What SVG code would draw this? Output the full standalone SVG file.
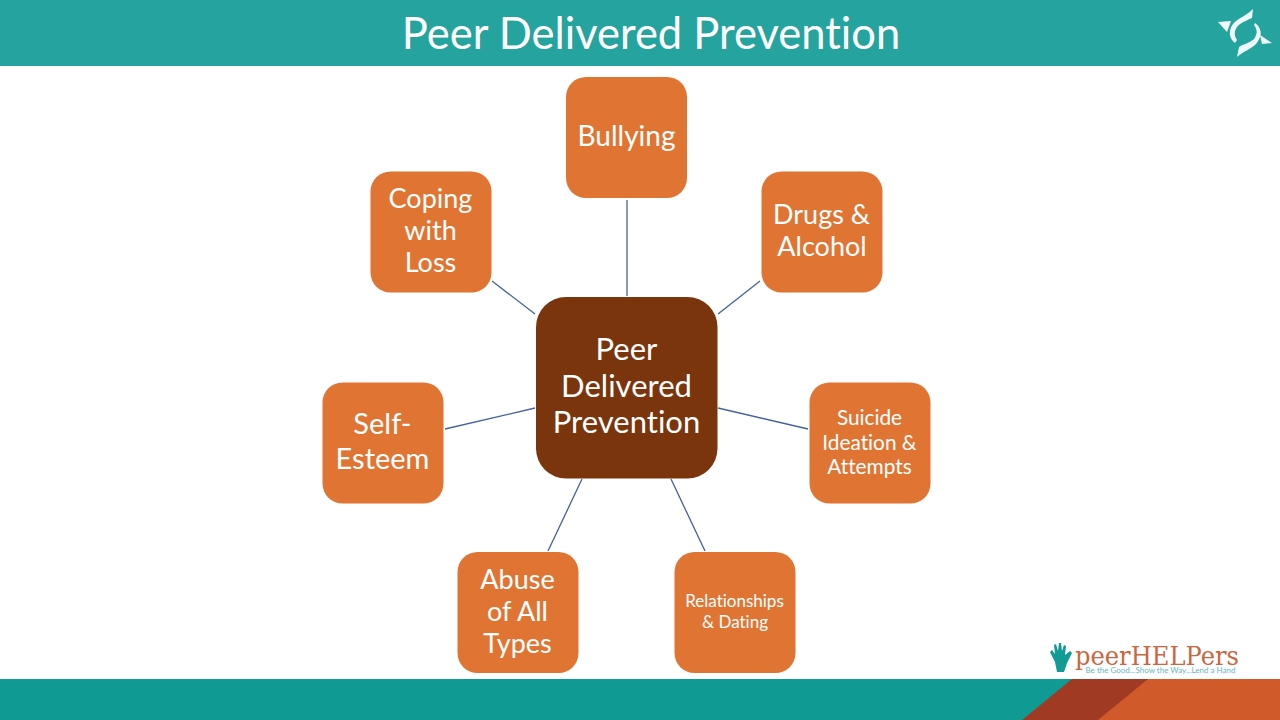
<svg xmlns="http://www.w3.org/2000/svg" width="1280" height="720" viewBox="0 0 1280 720">
<style>
text{font-family:Lato,"Open Sans","Liberation Sans",sans-serif;fill:#fff;text-anchor:middle;font-variant-ligatures:none}
.box{fill:#e07533}
.hub{fill:#7b350d}
.c line{stroke:#44619d;stroke-width:1.3}
.l{font-size:27px}
</style>
<rect width="1280" height="720" fill="#fff"/>
<rect id="header" width="1280" height="66" fill="#25a39f"/>
<text x="651" y="48.500" font-size="43.500">Peer Delivered Prevention</text>
<g id="corner-logo" fill="#eefafa">
<path d="M1218 22L1231 21L1227 32Z"/>
<path d="M1272 43L1260 35L1262 44Z"/>
<path d="M1253 9C1246 16 1238 18 1233 24C1228 31 1229 38 1235 43L1237 40C1234 36 1234 31 1237 27C1241 22 1248 20 1252 18Z"/>
<path d="M1237 57C1244 51 1251 49 1256 44C1262 37 1263 29 1255 23L1254 25C1258 30 1257 35 1254 39C1250 43 1243 44 1239 47Z"/>
</g>
<g id="footer">
<rect y="679" width="1280" height="41" fill="#0f9a94"/>
<path d="M1022 720L1072 679H1280V720Z" fill="#a13a22"/>
<path d="M1098 720L1148 679H1280V720Z" fill="#d05a29"/>
</g>
<g id="connectors" class="c">
<line x1="627" y1="200" x2="627" y2="296"/>
<line x1="760" y1="281" x2="718" y2="314"/>
<line x1="808" y1="429" x2="718" y2="408"/>
<line x1="705" y1="551" x2="671" y2="479"/>
<line x1="548" y1="551" x2="582" y2="479"/>
<line x1="445" y1="429" x2="535" y2="408"/>
<line x1="492" y1="281" x2="535" y2="314"/>
</g>
<g id="hub"><rect class="hub" x="536" y="297" width="181.500" height="181.500" rx="30"/>
<text x="626.500" y="360" font-size="31">Peer</text><text x="626.500" y="397" font-size="31">Delivered</text><text x="626.500" y="433" font-size="31">Prevention</text></g>
<g id="bullying"><rect class="box" x="566" y="77" width="121" height="121" rx="20"/><text x="626.500" y="146" font-size="28">Bullying</text></g>
<g id="drugs"><rect class="box" x="761.500" y="171.500" width="121" height="121" rx="20"/><text class="l" x="821.500" y="224">Drugs &amp;</text><text class="l" x="822" y="256">Alcohol</text></g>
<g id="suicide"><rect class="box" x="809.500" y="382.500" width="121" height="121" rx="20"/><text x="869.500" y="425" font-size="20.800">Suicide</text><text x="869.500" y="450" font-size="20.800">Ideation &amp;</text><text x="869.500" y="474" font-size="20.800">Attempts</text></g>
<g id="relationships"><rect class="box" x="674.500" y="552" width="121" height="121" rx="20"/><text x="734.500" y="607" font-size="17">Relationships</text><text x="735" y="627.500" font-size="17">&amp; Dating</text></g>
<g id="abuse"><rect class="box" x="457.500" y="552" width="121" height="121" rx="20"/><text class="l" x="517.500" y="589">Abuse</text><text class="l" x="517.500" y="621">of All</text><text class="l" x="517.500" y="653">Types</text></g>
<g id="self-esteem"><rect class="box" x="322.500" y="382.500" width="121" height="121" rx="20"/><text x="382.500" y="434" font-size="29">Self-</text><text x="382.500" y="469" font-size="29">Esteem</text></g>
<g id="coping"><rect class="box" x="370.500" y="171.500" width="121" height="121" rx="20"/><text class="l" x="430.500" y="208">Coping</text><text class="l" x="430.500" y="240">with</text><text class="l" x="430.500" y="272">Loss</text></g>
<g id="peerhelpers-logo">
<path d="M1057 672L1055 662L1050 652L1052 650L1055 654L1054 645L1056 644L1058 651L1059 643L1061 643L1062 651L1064 645L1066 646L1065 655L1070 651L1072 653L1067 663L1064 672Z" fill="#139a94"/>
<text x="1157" y="665" font-size="26.500" style="font-family:'DejaVu Serif','Liberation Serif',serif;fill:#c8683f" textLength="164" lengthAdjust="spacingAndGlyphs">peerHELPers</text>
<text x="1160.500" y="673" font-size="8" style="fill:#5fb9bb" textLength="150" lengthAdjust="spacingAndGlyphs">Be the Good...Show the Way...Lend a Hand</text>
</g>
</svg>
